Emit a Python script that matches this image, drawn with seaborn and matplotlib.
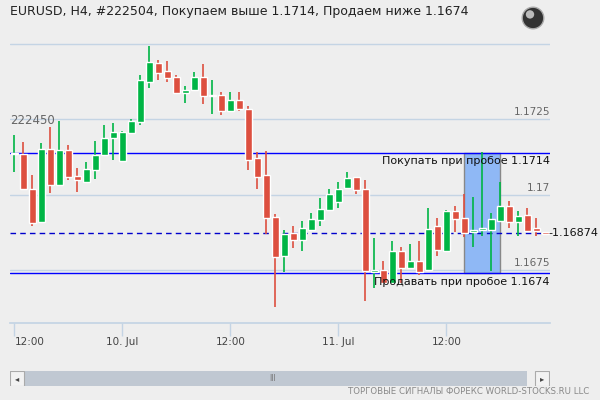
import numpy as np
import pandas as pd
import seaborn as sns
import matplotlib
matplotlib.use("Agg")
import matplotlib.pyplot as plt
from matplotlib.patches import Rectangle, Circle

opens = [1.17135,1.17135,1.17020,1.16911,1.17152,1.17033,1.17148,1.17063,1.17043,1.17082,
         1.17132,1.17188,1.17112,1.17204,1.17240,1.17375,1.17438,1.17411,1.17392,1.17339,
         1.17346,1.17392,1.17327,1.17332,1.17277,1.17313,1.17286,1.17122,1.17066,1.16928,
         1.16799,1.16875,1.16852,1.16885,1.16918,1.16951,1.16977,1.17023,1.17059,1.17020,
         1.16744,1.16753,1.16707,1.16816,1.16757,1.16780,1.16753,1.16898,1.16816,1.16947,
         1.16924,1.16878,1.16885,1.16885,1.16915,1.16964,1.16911,1.16934,1.16891,1.16875]
highs = [1.17198,1.17175,1.17066,1.17171,1.17224,1.17244,1.17165,1.17089,1.17109,1.17178,
         1.17230,1.17237,1.17211,1.17250,1.17398,1.17494,1.17448,1.17444,1.17398,1.17359,
         1.17408,1.17434,1.17382,1.17342,1.17342,1.17342,1.17296,1.17142,1.17145,1.16938,
         1.16885,1.16898,1.16915,1.16941,1.16990,1.17020,1.17043,1.17076,1.17059,1.17050,
         1.16859,1.16780,1.16846,1.16826,1.16839,1.16849,1.16957,1.16924,1.16951,1.16964,
         1.17004,1.16994,1.17142,1.16941,1.17043,1.16980,1.16947,1.16957,1.16924,1.16878]
lows = [1.17076,1.17020,1.16898,1.16911,1.17007,1.17030,1.17050,1.17010,1.17040,1.17053,
        1.17129,1.17115,1.17109,1.17204,1.17230,1.17355,1.17382,1.17375,1.17339,1.17306,
        1.17346,1.17300,1.17267,1.17263,1.17277,1.17277,1.17082,1.17020,1.16872,1.16628,
        1.16744,1.16823,1.16816,1.16885,1.16898,1.16951,1.16957,1.17023,1.17004,1.16648,
        1.16691,1.16707,1.16707,1.16707,1.16757,1.16734,1.16753,1.16799,1.16816,1.16878,
        1.16862,1.16826,1.16865,1.16747,1.16915,1.16891,1.16865,1.16882,1.16865,1.16869]
closes = [1.17138,1.17020,1.16908,1.17152,1.17033,1.17148,1.17059,1.17050,1.17086,1.17132,
          1.17188,1.17207,1.17207,1.17244,1.17379,1.17441,1.17405,1.17388,1.17339,1.17349,
          1.17392,1.17326,1.17329,1.17277,1.17313,1.17283,1.17115,1.17059,1.16924,1.16796,
          1.16872,1.16852,1.16891,1.16921,1.16954,1.17004,1.17020,1.17056,1.17017,1.16747,
          1.16753,1.16707,1.16816,1.16757,1.16780,1.16744,1.16888,1.16819,1.16947,1.16921,
          1.16875,1.16885,1.16888,1.16921,1.16964,1.16911,1.16931,1.16882,1.16882,1.16872]
tick_positions = [0, 12, 24, 36, 48]
tick_labels = ["12:00", "10. Jul", "12:00", "11. Jul", "12:00"]
grid_levels = [1.1750, 1.1725, 1.1700, 1.1675]
grid_labels = ["", "1.1725", "1.17", "1.1675"]
buy_level = 1.1714
sell_level = 1.1674
last_price = 1.16874

df = pd.DataFrame({"o": opens, "h": highs, "l": lows, "c": closes})
df["i"] = np.arange(len(df))

sns.set_theme(style="white")
plt.rcParams['font.family'] = ['DejaVu Sans']
BG = "#eeeeee"
GREEN = "#00b545"
RED = "#dd4f3f"

fig = plt.figure(figsize=(6, 4), dpi=100, facecolor=BG)
ax = fig.add_axes([10/600, 77/400, 540/600, 309/400])
ax.set_facecolor(BG)
for s in ax.spines.values():
    s.set_visible(False)

for lv in grid_levels:
    ax.axhline(lv, color="#c4d4e4", lw=1, zorder=0)

ax.add_patch(Rectangle((50, sell_level), 4, buy_level - sell_level,
                       facecolor="#8fb8f5", edgecolor="#888888", lw=1, zorder=1))

ax.axhline(buy_level, color="#0000ff", lw=1, zorder=2)
ax.axhline(sell_level, color="#0000ff", lw=1, zorder=2)
ax.axhline(last_price, color="#0000cc", lw=1, ls=(0, (4, 3)), zorder=2)

up = df["c"] >= df["o"]
colors = np.where(up, GREEN, RED)
ax.vlines(df["i"], df["l"], df["h"], colors=colors, lw=1.2, zorder=3)
bottoms = np.minimum(df["o"], df["c"])
heights = np.maximum(np.abs(df["c"] - df["o"]), 0.00004)
ax.bar(df["i"], heights, bottom=bottoms, width=0.78, color=colors, zorder=4)

ax.set_xlim(-0.48, 59.5)
ax.set_ylim(1.16576, 1.17599)
ax.set_yticks([])
ax.set_xticks(tick_positions)
ax.set_xticklabels(tick_labels, fontsize=7.5, color="#444444")
ax.tick_params(axis="x", bottom=True, direction="out", length=9, width=1,
               color="#c4d4e4", pad=1)
ax.spines["bottom"].set_visible(True)
ax.spines["bottom"].set_color("#c4d4e4")
labs = ax.get_xticklabels()
labs[0].set_horizontalalignment("left")
labs[0].set_x(-0.5)

for lv, lb in zip(grid_levels, grid_labels):
    if lb:
        ax.text(59.5, lv + 0.00008, lb, ha="right", va="bottom", fontsize=7.5, color="#666666", zorder=5)
ax.text(-0.5, 1.17245, "222450", ha="left", va="center", fontsize=8.5, color="#666666", zorder=5)
ax.text(59.5, buy_level - 0.00012, "Покупать при пробое 1.1714", ha="right", va="top",
        fontsize=8, color="#111111", zorder=5)
ax.text(59.5, sell_level - 0.00012, "Продавать при пробое 1.1674", ha="right", va="top",
        fontsize=8, color="#111111", zorder=5)
ax.text(59.3, last_price, "-1.16874", ha="left", va="center", fontsize=8, color="#111111",
        zorder=5, clip_on=False)

fig.text(10/600, 1 - 12/400, "EURUSD, H4, #222504, Покупаем выше 1.1714, Продаем ниже 1.1674",
         ha="left", va="center", fontsize=9, color="#222222")
gax = fig.add_axes([521/600, 1 - 30/400, 24/600, 24/400])
gax.set_xlim(-1, 1); gax.set_ylim(-1, 1); gax.set_aspect("equal"); gax.axis("off")
gax.add_patch(Circle((0, 0), 0.9, facecolor="#333333", edgecolor="#aaaaaa", lw=1))
gax.add_patch(Circle((-0.25, 0.3), 0.35, facecolor="#bbbbbb", edgecolor="none"))

sb = fig.add_axes([10/600, 1 - 386/400, 540/600, 15/400])
sb.set_xlim(0, 540); sb.set_ylim(0, 15); sb.axis("off")
sb.add_patch(Rectangle((0, 0), 517, 15, facecolor="#c0c8d2", edgecolor="none"))
sb.add_patch(Rectangle((0, 0), 14, 15, facecolor="#f2f2f2", edgecolor="#aaaaaa", lw=0.8))
sb.add_patch(Rectangle((525, 0), 14, 15, facecolor="#f2f2f2", edgecolor="#aaaaaa", lw=0.8))
sb.text(7, 7.5, "◂", ha="center", va="center", fontsize=6, color="#444444")
sb.text(532, 7.5, "▸", ha="center", va="center", fontsize=6, color="#444444")
sb.text(263, 7.5, "III", ha="center", va="center", fontsize=5.5, color="#777777")

fig.text(589/600, 1 - 392/400, "ТОРГОВЫЕ СИГНАЛЫ ФОРЕКС WORLD-STOCKS.RU LLC",
         ha="right", va="center", fontsize=6.2, color="#888888")

fig.savefig("out.png", dpi=100, facecolor=BG)
